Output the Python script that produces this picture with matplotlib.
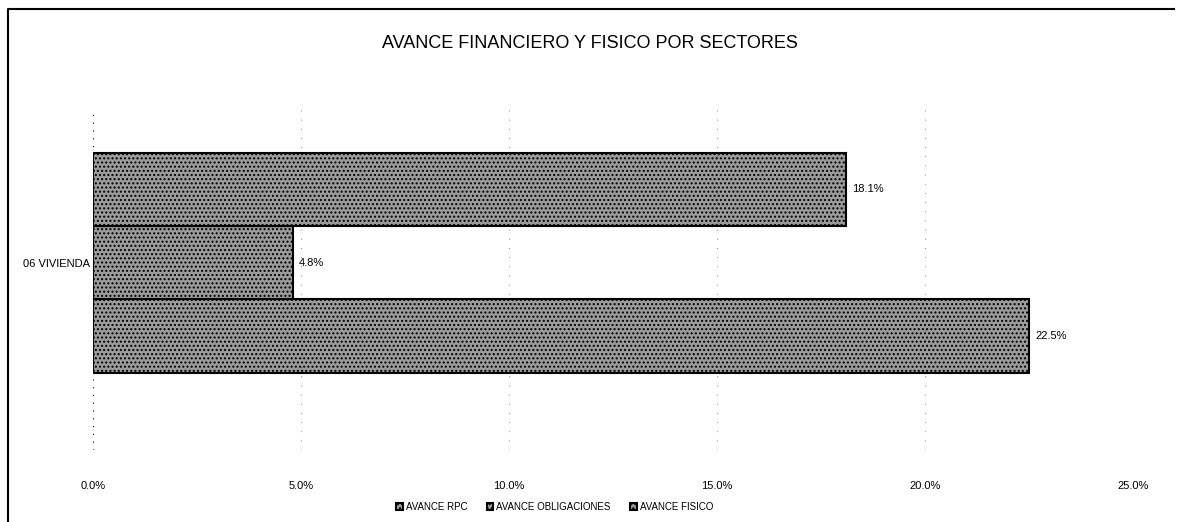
import matplotlib.pyplot as plt
from matplotlib.lines import Line2D

# data
category = '06 VIVIENDA'
series = ['AVANCE RPC', 'AVANCE OBLIGACIONES', 'AVANCE FISICO']
values = [0.225, 0.048, 0.181]
xticks = [0.0, 0.05, 0.10, 0.15, 0.20, 0.25]
xtick_labels = ['0.0%', '5.0%', '10.0%', '15.0%', '20.0%', '25.0%']

plt.rcParams['font.family'] = ['Liberation Sans Narrow', 'Liberation Sans', 'DejaVu Sans']

fig = plt.figure(figsize=(11.8, 5.22), dpi=100)
W, H = 1180, 522
# frame of the excel chart (left and top edge)
fig.add_artist(Line2D([8 / W, 8 / W, 1 - 6 / W], [0, 1 - 9 / H, 1 - 9 / H],
                      transform=fig.transFigure, color='black', linewidth=1.5))

ax = fig.add_axes([93 / W, 1 - 450 / H, (1133 - 93) / W, (450 - 110) / H])

bar_color = '#9c9c9c'
for i, (name, v) in enumerate(zip(series, values)):
    ax.barh(i, v, height=1.0, color=bar_color, edgecolor='black', linewidth=1.5,
            hatch='....', label=name)
    ax.text(v + 0.0015, i, f'{v*100:.1f}%', va='center', ha='left', fontsize=8)

ax.set_xlim(0, 0.25)
ax.set_ylim(-1.55, 3.08)
ax.set_xticks(xticks)
ax.set_xticklabels(xtick_labels, fontsize=8)
ax.set_yticks([1])
ax.set_yticklabels([category], fontsize=8)
ax.tick_params(axis='x', length=0, pad=22)
ax.tick_params(axis='y', length=0, pad=2)
for s in ax.spines.values():
    s.set_visible(False)
ax.axvline(0, color='black', linewidth=0.8, linestyle=(0, (1, 6)))
for t in xticks[1:]:
    ax.axvline(t, color='black', linewidth=0.6, linestyle=(0, (1, 10)), alpha=0.6)

fig.text(0.5, 1 - 43 / H, 'AVANCE FINANCIERO Y FISICO POR SECTORES', ha='center', va='center',
         fontsize=13)

handles, labels = ax.get_legend_handles_labels()
fig.legend(handles, labels, loc='center', bbox_to_anchor=(0.47, 1 - 507 / H), ncol=3,
           frameon=False, fontsize=7, handlelength=0.7, handleheight=0.7,
           columnspacing=2.0, handletextpad=0.3)

plt.savefig('out.png', dpi=100)
